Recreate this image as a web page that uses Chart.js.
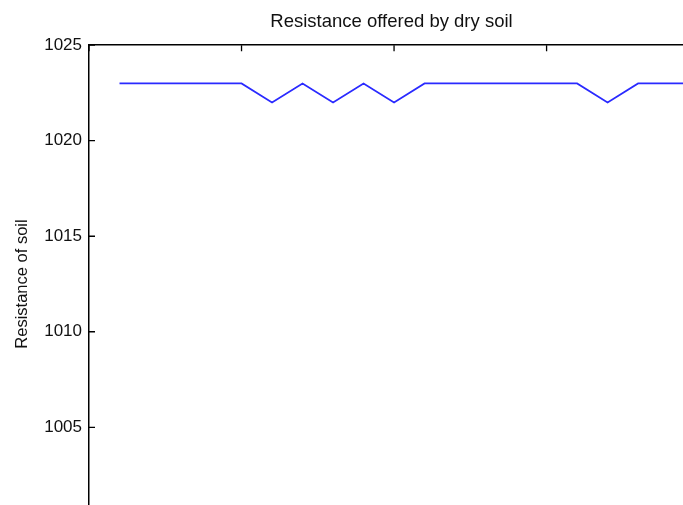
<!DOCTYPE html>
<html>
<head>
<meta charset="utf-8">
<script src="https://cdn.jsdelivr.net/npm/chart.js@4"></script>
<style>
  html, body { margin: 0; padding: 0; background: #fff; overflow: hidden; }
  #chart_section { position: absolute; left: 0; top: 0; width: 783px; height: 540px; }
</style>
</head>
<body>
<div id="chart_section"><canvas id="chart"></canvas></div>
<script>
// readings taken one after another
const sample_numbers = [1, 2, 3, 4, 5, 6, 7, 8, 9, 10, 11, 12, 13, 14, 15, 16, 17, 18, 19, 20];
const soil_resistance = [1023, 1023, 1023, 1023, 1023, 1022, 1023, 1022, 1023, 1022,
                         1023, 1023, 1023, 1023, 1023, 1023, 1022, 1023, 1023, 1023];
const y_tick_values = [1000, 1005, 1010, 1015, 1020, 1025];
const x_tick_values = [0, 5, 10, 15, 20];

const font_family = '"Liberation Sans", Arial, Helvetica, sans-serif';

const points = [];
for (let i = 0; i < sample_numbers.length; i++) {
  points.push({ x: sample_numbers[i], y: soil_resistance[i] });
}

// matlab style ticks that point into the plot
const inward_ticks = {
  id: 'inward_ticks',
  afterDraw(chart) {
    const ctx = chart.ctx;
    const area = chart.chartArea;
    const x = chart.scales.x;
    const y = chart.scales.y;
    ctx.save();
    ctx.strokeStyle = '#000';
    ctx.lineWidth = 1.3;
    ctx.beginPath();
    x_tick_values.forEach(function (v) {
      const px = x.getPixelForValue(v);
      ctx.moveTo(px, area.top);
      ctx.lineTo(px, area.top + 6);
    });
    y_tick_values.forEach(function (v) {
      const py = y.getPixelForValue(v);
      ctx.moveTo(area.left, py);
      ctx.lineTo(area.left + 6, py);
    });
    ctx.stroke();
    ctx.restore();
  }
};

new Chart(document.getElementById('chart'), {
  type: 'line',
  data: {
    datasets: [{
      data: points,
      borderColor: '#2a2aff',
      borderWidth: 1.7,
      pointRadius: 0,
      tension: 0,
      fill: false
    }]
  },
  options: {
    responsive: true,
    maintainAspectRatio: false,
    animation: false,
    layout: { padding: { left: 0, right: 0, top: 0, bottom: 17 } },
    plugins: {
      legend: { display: false },
      tooltip: { enabled: false },
      title: {
        display: true,
        text: 'Resistance offered by dry soil',
        color: '#111',
        font: { family: font_family, size: 18.5, weight: 'normal' },
        padding: { top: 11, bottom: 12 }
      }
    },
    scales: {
      x: {
        type: 'linear',
        position: 'top',
        min: 0,
        max: 22.75,
        ticks: { display: false, stepSize: 5 },
        grid: { display: false, drawTicks: false },
        border: { display: true, color: '#000', width: 1.5 },
        afterFit(scale) { scale.height = 0; }
      },
      y: {
        min: 1000,
        max: 1025,
        afterBuildTicks(scale) {
          scale.ticks = y_tick_values.map(function (v) { return { value: v }; });
        },
        afterFit(scale) { scale.width = 89; },
        ticks: {
          padding: 7,
          color: '#111',
          font: { family: font_family, size: 17 },
          callback: function (value) { return String(value); }
        },
        grid: { display: false, drawTicks: false },
        border: { display: true, color: '#000', width: 1.5 },
        title: {
          display: true,
          text: 'Resistance of soil',
          color: '#111',
          font: { family: font_family, size: 16.5 },
          padding: { top: 13, bottom: 0 }
        }
      }
    }
  },
  plugins: [inward_ticks]
});
</script>
</body>
</html>
